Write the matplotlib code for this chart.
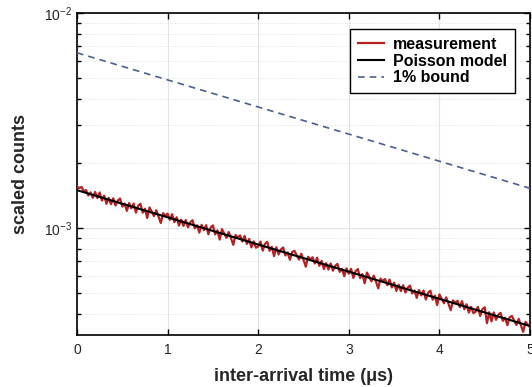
import numpy as np
import matplotlib
matplotlib.use("Agg")
import matplotlib.pyplot as plt
from matplotlib.ticker import LogLocator, NullFormatter

plt.rcParams['font.family'] = ['Liberation Sans', 'DejaVu Sans']
plt.rcParams['mathtext.fontset'] = 'custom'
plt.rcParams['mathtext.rm'] = 'Liberation Sans'
plt.rcParams['mathtext.it'] = 'Liberation Sans:italic'
plt.rcParams['mathtext.bf'] = 'Liberation Sans:bold'

t_meas = [round(0.025 * i, 3) for i in range(201)]
meas_e4 = [
    15.60, 15.34, 15.52, 14.82, 15.01, 14.17, 14.65, 13.82,
    14.72, 13.77, 14.64, 13.42, 14.15, 12.96, 13.81, 12.91,
    13.75, 12.72, 13.42, 13.71, 12.58, 13.00, 12.01, 13.07,
    12.34, 13.00, 11.79, 12.69, 12.96, 11.78, 12.30, 11.13,
    12.47, 11.92, 11.36, 12.10, 11.31, 10.54, 11.72, 11.40,
    11.66, 10.91, 11.60, 10.64, 11.22, 10.27, 10.94, 10.23,
    10.90, 10.08, 10.64, 10.87, 9.97, 10.30, 9.52, 10.35,
    9.78, 10.31, 9.35, 10.06, 10.28, 9.34, 9.75, 8.83,
    9.88, 9.44, 9.00, 9.58, 8.96, 8.35, 9.28, 9.04,
    9.24, 8.64, 9.19, 8.43, 8.89, 8.13, 8.67, 8.10,
    8.21, 8.65, 7.85, 8.45, 8.63, 7.84, 8.18, 7.40,
    8.14, 7.54, 7.95, 8.12, 7.45, 7.70, 7.12, 7.74,
    7.83, 7.47, 7.13, 7.59, 7.10, 6.61, 7.35, 7.15,
    7.31, 6.84, 7.28, 6.67, 7.03, 6.44, 6.86, 6.41,
    6.84, 6.33, 6.67, 6.81, 6.25, 6.46, 5.97, 6.49,
    6.13, 6.46, 5.86, 6.30, 6.44, 5.85, 6.11, 5.53,
    6.21, 5.92, 5.65, 6.01, 5.63, 5.24, 5.82, 5.67,
    5.79, 5.42, 5.76, 5.29, 5.57, 5.10, 5.45, 5.09,
    5.42, 5.01, 5.28, 5.40, 4.96, 5.12, 4.73, 5.15,
    4.86, 5.12, 4.65, 5.00, 5.11, 4.64, 4.85, 4.38,
    4.91, 4.69, 4.47, 4.76, 4.45, 4.15, 4.61, 4.48,
    4.59, 4.29, 4.57, 4.19, 4.42, 4.04, 4.30, 4.02,
    4.08, 4.30, 3.90, 4.19, 4.28, 3.61, 4.06, 3.68,
    4.05, 3.74, 3.95, 4.03, 3.70, 3.83, 3.53, 3.84,
    3.90, 3.72, 3.54, 3.78, 3.53, 3.29, 3.66, 3.56,
    3.45,
]

# Poisson model and 1% bound (straight lines in log scale)
t_line = [0, 5]
model = [1.50e-3, 3.50e-4]
bound = [6.53e-3, 1.53e-3]

fig = plt.figure(figsize=(5.32, 3.87), dpi=100)
ax = fig.add_axes([77 / 532, 52 / 387, 453 / 532, 322 / 387])

ax.plot(t_meas, np.array(meas_e4) * 1e-4, color='#b22222', lw=1.6,
        label='measurement', zorder=3)
ax.plot(t_line, model, color='black', lw=1.5, label='Poisson model', zorder=4)
ax.plot(t_line, bound, color='#4a5f94', lw=1.2, ls=(0, (4, 3)),
        label='1% bound', zorder=3)

ax.set_yscale('log')
ax.set_xlim(0, 5)
ax.set_ylim(3.18e-4, 1e-2)
ax.set_xticks([0, 1, 2, 3, 4, 5])
ax.yaxis.set_minor_locator(LogLocator(base=10, subs=np.arange(2, 10)))
ax.yaxis.set_minor_formatter(NullFormatter())

ax.grid(True, which='major', color='#e3e3e3', lw=0.8)
ax.grid(True, which='minor', axis='y', color='#d6d6d6', lw=0.6, ls=(0, (1, 2)))
ax.set_axisbelow(True)

ax.tick_params(which='both', direction='in', top=True, right=True,
               labelsize=10, labelcolor='#262626')
ax.tick_params(axis='x', pad=6)
ax.tick_params(which='major', length=4, width=1)
ax.tick_params(which='minor', length=3, width=1)
for s in ax.spines.values():
    s.set_linewidth(1.2)

ax.set_xlabel('inter-arrival time (μs)', fontsize=13, fontweight='bold',
              color='#262626', labelpad=8)
ax.set_ylabel('scaled counts', fontsize=13, fontweight='bold',
              color='#262626', labelpad=11)

leg = ax.legend(loc='upper right', bbox_to_anchor=(0.967, 0.950),
                borderaxespad=0, fancybox=False, framealpha=1,
                prop={'weight': 'bold', 'size': 11.5},
                handlelength=1.65, handletextpad=0.55,
                labelspacing=0.1, borderpad=0.5)
leg.get_frame().set_edgecolor('black')
leg.get_frame().set_linewidth(1.0)

fig.savefig('out.png', dpi=100)
